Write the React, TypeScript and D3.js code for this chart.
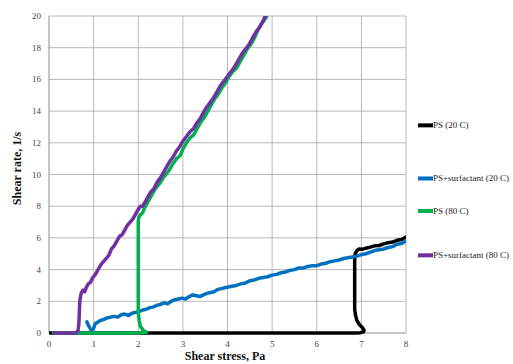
import * as d3 from 'd3';

type Pt = [number, number];

// PS (20 C)
const psCold: Pt[] = [
  [0.02, 0], [1, 0], [3, 0], [5, 0], [6.9, 0], [6.98, 0.02], [7.05, 0.08], [7.06, 0.18], [7.02, 0.35],
  [6.95, 0.55], [6.9, 0.8], [6.87, 1.1], [6.85, 1.5], [6.85, 2.2], [6.85, 3.0], [6.85, 3.8], [6.85, 4.6],
  [6.86, 5.0], [6.9, 5.2], [6.95, 5.3], [7.02, 5.28], [7.1, 5.35], [7.2, 5.42], [7.3, 5.5], [7.4, 5.52],
  [7.5, 5.62], [7.6, 5.7], [7.7, 5.74], [7.8, 5.85], [7.9, 5.9], [8.0, 6.05],
];

// PS+surfactant (20 C)
const psSurfCold: Pt[] = [
  [0.85, 0.7], [0.88, 0.5], [0.92, 0.3], [0.96, 0.1], [1.0, 0.3], [1.04, 0.6], [1.1, 0.7], [1.16, 0.8],
  [1.22, 0.85], [1.3, 0.95], [1.38, 1.0], [1.46, 1.05], [1.54, 1.0], [1.62, 1.15], [1.7, 1.2], [1.78, 1.1],
  [1.86, 1.25], [1.94, 1.3], [2.02, 1.35], [2.1, 1.45], [2.18, 1.5], [2.26, 1.6], [2.34, 1.65], [2.42, 1.75],
  [2.5, 1.8], [2.58, 1.9], [2.66, 1.85], [2.74, 2.0], [2.82, 2.1], [2.9, 2.15], [2.98, 2.2], [3.06, 2.15],
  [3.14, 2.3], [3.22, 2.4], [3.3, 2.35], [3.38, 2.3], [3.46, 2.4], [3.54, 2.5], [3.62, 2.55], [3.7, 2.6],
  [3.78, 2.75], [3.86, 2.8], [3.94, 2.85], [4.02, 2.9], [4.1, 2.95], [4.2, 3.0], [4.3, 3.1], [4.4, 3.15],
  [4.5, 3.3], [4.6, 3.35], [4.7, 3.45], [4.8, 3.5], [4.9, 3.55], [5.0, 3.65], [5.1, 3.7], [5.2, 3.8],
  [5.3, 3.85], [5.4, 3.95], [5.5, 4.0], [5.6, 4.1], [5.7, 4.1], [5.8, 4.2], [5.9, 4.25], [6.0, 4.25],
  [6.1, 4.35], [6.2, 4.4], [6.3, 4.5], [6.4, 4.55], [6.5, 4.6], [6.6, 4.7], [6.7, 4.75], [6.8, 4.8],
  [6.9, 4.85], [7.0, 4.95], [7.1, 5.0], [7.2, 5.1], [7.3, 5.2], [7.4, 5.25], [7.5, 5.3], [7.6, 5.4],
  [7.7, 5.45], [7.8, 5.6], [7.9, 5.65], [8.0, 5.8],
];

// PS (80 C)
const psHot: Pt[] = [
  [0.1, 0], [1.0, 0], [1.8, 0], [2.1, 0.02], [2.19, 0.05], [2.12, 0.15], [2.05, 0.4], [2.02, 0.8],
  [2.0, 1.3], [2.0, 2.5], [2.0, 4.0], [2.0, 5.5], [2.0, 7.0], [2.01, 7.3], [2.05, 7.45], [2.1, 7.6],
  [2.14, 7.9], [2.2, 8.2], [2.26, 8.5], [2.32, 8.8], [2.38, 9.1], [2.44, 9.3], [2.5, 9.5], [2.56, 9.8],
  [2.62, 10.0], [2.7, 10.3], [2.78, 10.7], [2.86, 11.0], [2.94, 11.2], [3.0, 11.6], [3.08, 12.0],
  [3.16, 12.3], [3.24, 12.5], [3.32, 12.9], [3.4, 13.3], [3.48, 13.6], [3.56, 14.0], [3.64, 14.4],
  [3.72, 14.8], [3.8, 15.1], [3.88, 15.5], [3.96, 15.8], [4.04, 16.2], [4.12, 16.5], [4.2, 16.7],
  [4.28, 17.1], [4.36, 17.5], [4.44, 17.9], [4.52, 18.2], [4.6, 18.6], [4.68, 19.1], [4.76, 19.5],
  [4.84, 19.8], [4.9, 20.1],
];

// PS+surfactant (80 C)
const psSurfHot: Pt[] = [
  [0.12, 0], [0.35, 0], [0.6, 0], [0.65, 0.15], [0.67, 0.6], [0.68, 1.3], [0.69, 2.0], [0.72, 2.5],
  [0.76, 2.7], [0.8, 2.6], [0.84, 2.9], [0.88, 3.1], [0.93, 3.2], [0.98, 3.5], [1.04, 3.7], [1.1, 4.0],
  [1.16, 4.3], [1.22, 4.5], [1.28, 4.7], [1.34, 4.9], [1.4, 5.3], [1.46, 5.5], [1.52, 5.8], [1.58, 6.1],
  [1.64, 6.2], [1.7, 6.5], [1.76, 6.8], [1.82, 7.0], [1.88, 7.2], [1.94, 7.5], [2.0, 7.8], [2.05, 8.0],
  [2.1, 8.0], [2.16, 8.3], [2.22, 8.6], [2.28, 8.9], [2.35, 9.1], [2.42, 9.5], [2.5, 9.8], [2.56, 10.1],
  [2.62, 10.4], [2.7, 10.8], [2.78, 11.1], [2.86, 11.5], [2.94, 11.8], [3.0, 12.1], [3.08, 12.4],
  [3.16, 12.7], [3.24, 12.9], [3.3, 13.2], [3.38, 13.5], [3.46, 13.9], [3.52, 14.2], [3.6, 14.5],
  [3.68, 14.8], [3.76, 15.2], [3.84, 15.6], [3.92, 15.9], [4.0, 16.2], [4.08, 16.5], [4.16, 16.8],
  [4.24, 17.2], [4.32, 17.6], [4.4, 17.9], [4.48, 18.2], [4.56, 18.6], [4.64, 19.0], [4.72, 19.3],
  [4.8, 19.7], [4.86, 20.1],
];

const seriesNames = ['PS (20 C)', 'PS+surfactant (20 C)', 'PS (80 C)', 'PS+surfactant (80 C)'];
const seriesColors = ['#000000', '#0070c0', '#00b050', '#7030a0'];
const seriesData = [psCold, psSurfCold, psHot, psSurfHot];
// legend rows sit at these shear-rate levels on the plot's right
const legendLevels = [13.1, 9.75, 7.7, 4.9];

const xTicks = [0, 1, 2, 3, 4, 5, 6, 7, 8];
const yTicks = [0, 2, 4, 6, 8, 10, 12, 14, 16, 18, 20];

const serif = { fontFamily: 'Liberation Serif, Times New Roman, DejaVu Serif, serif' };

export default function App() {
  const width = 513;
  const height = 364;
  const margin = { top: 16, right: 107, bottom: 31, left: 49 };

  const x = d3.scaleLinear().domain([0, 8]).range([margin.left, width - margin.right]);
  const y = d3.scaleLinear().domain([0, 20]).range([height - margin.bottom, margin.top]);

  const line = d3
    .line<Pt>()
    .x((d) => x(d[0]))
    .y((d) => y(d[1]));

  return (
    <svg
      width={width}
      height={height}
      style={{ position: 'absolute', left: 0, top: 0, background: '#fff' }}
    >
      <defs>
        <clipPath id="plot">
          <rect x={x(0)} y={y(20)} width={x(8) - x(0)} height={y(0) - y(20) + 2} />
        </clipPath>
      </defs>

      {xTicks.slice(1).map((t) => (
        <line key={`gx${t}`} x1={x(t)} x2={x(t)} y1={y(0)} y2={y(20)} stroke="#b8b8b8" strokeWidth={1} />
      ))}
      {yTicks.slice(1).map((t) => (
        <line key={`gy${t}`} x1={x(0)} x2={x(8)} y1={y(t)} y2={y(t)} stroke="#b8b8b8" strokeWidth={1} />
      ))}
      <line x1={x(0)} x2={x(0)} y1={y(0)} y2={y(20)} stroke="#8c8c8c" />
      <line x1={x(0)} x2={x(8)} y1={y(0)} y2={y(0)} stroke="#8c8c8c" />

      {yTicks.map((t) => (
        <text key={`ty${t}`} x={x(0) - 8} y={y(t) + 3} textAnchor="end" fontSize={9} fill="#444" style={serif}>
          {t}
        </text>
      ))}
      {xTicks.map((t) => (
        <text key={`tx${t}`} x={x(t)} y={y(0) + 14} textAnchor="middle" fontSize={9} fill="#444" style={serif}>
          {t}
        </text>
      ))}

      <g clipPath="url(#plot)">
        {seriesData.map((s, i) => (
          <path
            key={seriesNames[i]}
            d={line(s) ?? ''}
            fill="none"
            stroke={seriesColors[i]}
            strokeWidth={3.5}
            strokeLinejoin="round"
            strokeLinecap="round"
          />
        ))}
      </g>

      <text x={225} y={y(0) + 27} textAnchor="middle" fontSize={12} fontWeight="bold" fill="#111" style={serif}>
        Shear stress, Pa
      </text>
      <text
        transform={`translate(21,${(y(0) + y(20)) / 2 - 6}) rotate(-90)`}
        textAnchor="middle"
        fontSize={12}
        fontWeight="bold"
        fill="#111"
        style={serif}
      >
        Shear rate, 1/s
      </text>

      {seriesNames.map((name, i) => {
        const ly = y(legendLevels[i]);
        return (
          <g key={`lg${name}`}>
            <line x1={418} x2={433} y1={ly} y2={ly} stroke={seriesColors[i]} strokeWidth={4} />
            <text x={433} y={ly + 3} fontSize={9} fill="#222" style={serif}>
              {name}
            </text>
          </g>
        );
      })}
    </svg>
  );
}
